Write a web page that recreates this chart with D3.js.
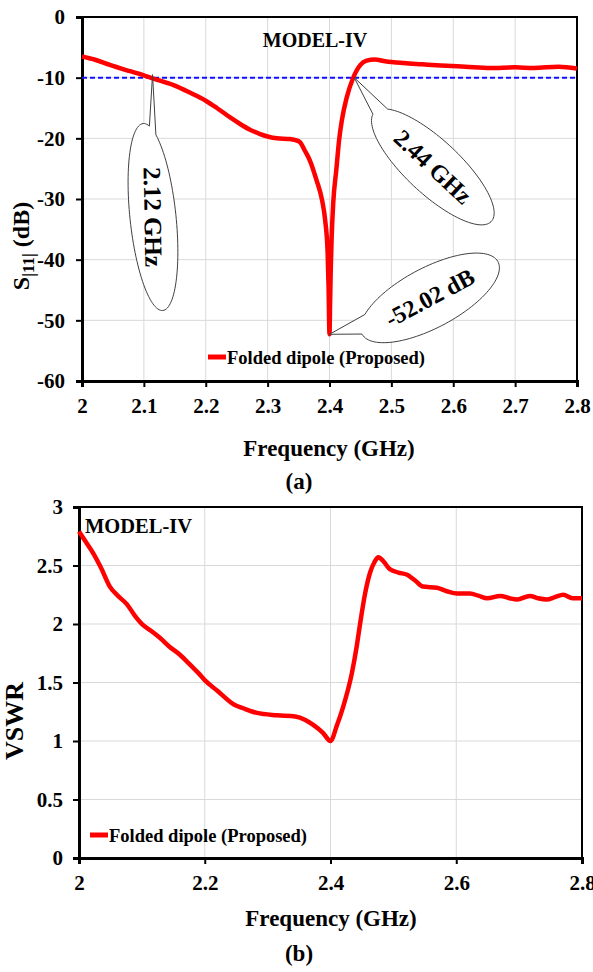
<!DOCTYPE html>
<html><head><meta charset="utf-8">
<script src="https://cdn.jsdelivr.net/npm/d3@7"></script>
<style>
body{margin:0;background:#fff}
svg{display:block}
text{font-family:"Liberation Serif","Times New Roman",serif;font-weight:bold;fill:#000}
</style>
</head><body>
<svg id="c" width="593" height="972"></svg>
<script>
// ---------- data ----------
const s11Freq = [2.000,2.020,2.045,2.070,2.090,2.114,2.150,2.175,2.200,2.218,2.240,2.255,2.270,2.288,2.300,2.315,2.336,2.345,2.352,2.360,2.368,2.379,2.388,2.393,2.397,2.3985,2.400,2.401,2.402,2.4035,2.406,2.411,2.4155,2.420,2.428,2.438,2.450,2.460,2.473,2.490,2.520,2.550,2.580,2.620,2.660,2.700,2.730,2.770,2.800];
const s11Db   = [-6.5,-7.0,-7.9,-8.7,-9.3,-10.1,-11.3,-12.5,-13.8,-15.0,-16.6,-17.6,-18.5,-19.3,-19.7,-20.0,-20.1,-20.3,-20.6,-22.0,-23.6,-26.9,-30.2,-33.5,-38.9,-44.5,-52.3,-47.0,-41.7,-36.3,-30.7,-25.2,-20.3,-17.0,-13.2,-10.1,-7.9,-7.2,-7.0,-7.3,-7.6,-7.8,-8.0,-8.2,-8.4,-8.3,-8.4,-8.2,-8.5];
const vswrFreq = [2.000,2.011,2.022,2.035,2.049,2.062,2.076,2.089,2.102,2.115,2.129,2.143,2.161,2.177,2.190,2.200,2.220,2.247,2.261,2.283,2.315,2.344,2.360,2.372,2.388,2.400,2.410,2.420,2.434,2.442,2.447,2.455,2.463,2.470,2.476,2.485,2.494,2.508,2.522,2.535,2.547,2.569,2.585,2.601,2.622,2.636,2.649,2.670,2.685,2.697,2.717,2.730,2.744,2.757,2.770,2.785,2.800];
const vswrVal  = [2.79,2.70,2.61,2.48,2.32,2.24,2.17,2.07,1.99,1.94,1.88,1.81,1.735,1.65,1.58,1.52,1.43,1.31,1.28,1.24,1.22,1.21,1.18,1.14,1.07,1.00,1.13,1.29,1.58,1.82,2.00,2.26,2.44,2.53,2.57,2.53,2.47,2.44,2.42,2.37,2.32,2.31,2.28,2.26,2.26,2.24,2.22,2.24,2.22,2.21,2.24,2.22,2.21,2.23,2.25,2.22,2.22];
const s11XTicks = [2,2.1,2.2,2.3,2.4,2.5,2.6,2.7,2.8];
const s11YTicks = [0,-10,-20,-30,-40,-50,-60];
const vswrXTicks = [2,2.2,2.4,2.6,2.8];
const vswrYTicks = [0,0.5,1,1.5,2,2.5,3];
const refLevel = -10;
const seriesName = "Folded dipole (Proposed)";
const modelName = "MODEL-IV";
const xTitle = "Frequency (GHz)";
const panelLabels = ["(a)","(b)"];
// callouts: tip and ellipse centre in data units
const calloutLabels = ["2.12 GHz","2.44 GHz","-52.02 dB"];
const calloutTipF = [2.114,2.44,2.4];
const calloutTipV = [-9.5,-10,-52.3];
const calloutCenterF = [2.1147,2.567,2.5624];
const calloutCenterV = [-32.97,-24.7,-46.3];

// ---------- layout ----------
const svg = d3.select("#c");
const RED = "#ff0000";
const GRID = "#d9d9d9";

function panel(o){
  const g = svg.append("g");
  const x = d3.scaleLinear().domain(o.xd).range([o.l,o.r]);
  const y = d3.scaleLinear().domain(o.yd).range([o.b,o.t]);
  g.append("g").selectAll("line").data(o.xt.slice(1,-1)).join("line")
    .attr("x1",d=>x(d)).attr("x2",d=>x(d)).attr("y1",o.t).attr("y2",o.b)
    .attr("stroke",GRID).attr("stroke-width",1);
  g.append("g").selectAll("line").data(o.yt.filter(d=>d!==o.yd[0]&&d!==o.yd[1])).join("line")
    .attr("x1",o.l).attr("x2",o.r).attr("y1",d=>y(d)).attr("y2",d=>y(d))
    .attr("stroke",GRID).attr("stroke-width",1);
  g.append("rect").attr("x",o.l).attr("y",o.t).attr("width",o.r-o.l).attr("height",o.b-o.t)
    .attr("fill","none").attr("stroke","#000").attr("stroke-width",2);
  const xa = g.append("g").attr("transform",`translate(0,${o.b})`)
    .call(d3.axisBottom(x).tickValues(o.xt).tickSize(6).tickPadding(8).tickFormat(d3.format("~g")));
  const ya = g.append("g").attr("transform",`translate(${o.l},0)`)
    .call(d3.axisLeft(y).tickValues(o.yt).tickSize(6).tickPadding(o.ypad).tickFormat(d=>d3.format("~g")(d).replace("−","-")));
  [xa,ya].forEach(a=>{
    a.attr("font-family",null).attr("font-size",null);
    a.select(".domain").attr("stroke","#000").attr("stroke-width",3);
    a.selectAll(".tick line").attr("stroke","#000").attr("stroke-width",2);
    a.selectAll(".tick text").attr("font-size",21).attr("fill","#000");
  });
  xa.selectAll(".tick text").attr("dy","0.85em");
  return {g,x,y};
}

// ---------- panel (a) ----------
const A = panel({l:82,r:577,t:17,b:381,xd:[2,2.8],yd:[-60,0],xt:s11XTicks,yt:s11YTicks,ypad:11});
A.g.append("line").attr("x1",A.x(2)).attr("x2",A.x(2.8)).attr("y1",A.y(refLevel)).attr("y2",A.y(refLevel))
  .attr("stroke","#1010ff").attr("stroke-width",2).attr("stroke-dasharray","5,3");
const s11Data = s11Freq.map((f,i)=>[f,s11Db[i]]);
A.g.append("path").datum(s11Data)
  .attr("d",d3.line().x(d=>A.x(d[0])).y(d=>A.y(d[1])).curve(d3.curveMonotoneX))
  .attr("fill","none").attr("stroke",RED).attr("stroke-width",4.5).attr("stroke-linejoin","round");

const calloutGeom = [
  {rx:23,ry:94,rot:-6,t1:-75,t2:-60,trot:89,fs:25},
  {rx:80,ry:27,rot:43,t1:175,t2:205,trot:43,fs:24},
  {rx:77,ry:30,rot:-28,t1:180,t2:212,trot:-28,fs:24}
];
calloutLabels.forEach((lab,i)=>{
  const G = calloutGeom[i];
  const cx = A.x(calloutCenterF[i]), cy = A.y(calloutCenterV[i]);
  const tx = A.x(calloutTipF[i]), ty = A.y(calloutTipV[i]);
  const r = G.rot*Math.PI/180, pts=[];
  const end = G.t1+360;
  for(let t=G.t2;;t+=3){
    const tt = Math.min(t,end), a = tt*Math.PI/180;
    const lx = G.rx*Math.cos(a), ly = G.ry*Math.sin(a);
    pts.push([cx+lx*Math.cos(r)-ly*Math.sin(r), cy+lx*Math.sin(r)+ly*Math.cos(r)]);
    if(tt>=end) break;
  }
  pts.push([tx,ty]);
  A.g.append("path").attr("d",d3.line()(pts)+"Z")
    .attr("fill","#fff").attr("stroke","#404040").attr("stroke-width",1);
  A.g.append("text").attr("transform",`translate(${cx},${cy}) rotate(${G.trot})`)
    .attr("text-anchor","middle").attr("dominant-baseline","central")
    .attr("font-size",G.fs).text(lab);
});

A.g.append("text").attr("x",315).attr("y",47).attr("text-anchor","middle").attr("font-size",20).text(modelName);
A.g.append("line").attr("x1",208).attr("x2",226).attr("y1",357).attr("y2",357).attr("stroke",RED).attr("stroke-width",5);
A.g.append("text").attr("x",227).attr("y",364).attr("font-size",18.5).text(seriesName);
const ylab = A.g.append("text").attr("transform","translate(29,246) rotate(-90)").attr("text-anchor","middle").attr("font-size",24);
ylab.append("tspan").text("S");
ylab.append("tspan").attr("font-size",17).attr("dy",5).text("|11|");
ylab.append("tspan").attr("dy",-5).text(" (dB)");
A.g.append("text").attr("x",329).attr("y",456).attr("text-anchor","middle").attr("font-size",23).text(xTitle);
A.g.append("text").attr("x",299).attr("y",489).attr("text-anchor","middle").attr("font-size",23).text(panelLabels[0]);

// ---------- panel (b) ----------
const B = panel({l:79,r:582,t:507,b:858,xd:[2,2.8],yd:[0,3],xt:vswrXTicks,yt:vswrYTicks,ypad:10});
const vData = vswrFreq.map((f,i)=>[f,vswrVal[i]]);
B.g.append("path").datum(vData)
  .attr("d",d3.line().x(d=>B.x(d[0])).y(d=>B.y(d[1])).curve(d3.curveMonotoneX))
  .attr("fill","none").attr("stroke",RED).attr("stroke-width",4.5).attr("stroke-linejoin","round");
B.g.append("text").attr("x",85).attr("y",533).attr("font-size",20.5).text(modelName);
B.g.append("line").attr("x1",90).attr("x2",108).attr("y1",835).attr("y2",835).attr("stroke",RED).attr("stroke-width",5);
B.g.append("text").attr("x",109).attr("y",842).attr("font-size",18.5).text(seriesName);
B.g.append("text").attr("transform","translate(23,721) rotate(-90)").attr("text-anchor","middle").attr("font-size",26).text("VSWR");
B.g.append("text").attr("x",331).attr("y",926).attr("text-anchor","middle").attr("font-size",23).text(xTitle);
B.g.append("text").attr("x",299).attr("y",961).attr("text-anchor","middle").attr("font-size",23).text(panelLabels[1]);
</script>
</body></html>
